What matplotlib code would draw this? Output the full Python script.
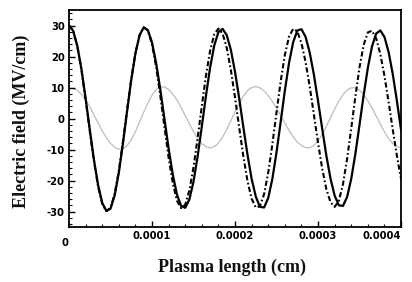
import matplotlib
matplotlib.use('Agg')
import matplotlib.pyplot as plt
from matplotlib.ticker import MultipleLocator, FixedLocator

# sample positions along the plasma, in units of 1e-5 cm
x_pos = [0.0, 0.5, 1.0, 1.5, 2.0, 2.5, 3.0, 3.5, 4.0, 4.5,
         5.0, 5.5, 6.0, 6.5, 7.0, 7.5, 8.0, 8.5, 9.0, 9.5,
         10.0, 10.5, 11.0, 11.5, 12.0, 12.5, 13.0, 13.5, 14.0, 14.5,
         15.0, 15.5, 16.0, 16.5, 17.0, 17.5, 18.0, 18.5, 19.0, 19.5,
         20.0, 20.5, 21.0, 21.5, 22.0, 22.5, 23.0, 23.5, 24.0, 24.5,
         25.0, 25.5, 26.0, 26.5, 27.0, 27.5, 28.0, 28.5, 29.0, 29.5,
         30.0, 30.5, 31.0, 31.5, 32.0, 32.5, 33.0, 33.5, 34.0, 34.5,
         35.0, 35.5, 36.0, 36.5, 37.0, 37.5, 38.0, 38.5, 39.0, 39.5,
         40.0]

# solid curve (MV/cm)
field_solid = [30.0, 28.3, 23.4, 15.9, 6.5, -3.5, -13.2, -21.4, -27.2, -29.8,
               -29.1, -24.8, -17.5, -8.0, 2.4, 12.5, 21.0, 26.9, 29.4, 28.5,
               24.5, 17.8, 9.3, -0.2, -9.7, -18.1, -24.5, -28.2, -28.8, -26.1,
               -20.3, -12.1, -2.5, 7.4, 16.5, 23.6, 27.9, 28.9, 26.9, 22.1,
               15.0, 6.5, -2.8, -11.7, -19.5, -25.2, -28.5, -28.7, -25.6, -19.4,
               -10.8, -1.0, 9.0, 17.9, 24.6, 28.4, 28.8, 26.3, 21.2, 14.1,
               5.6, -3.3, -12.0, -19.4, -24.9, -28.0, -28.2, -25.3, -19.4, -11.3,
               -1.9, 7.7, 16.4, 23.3, 27.4, 28.4, 26.3, 21.4, 14.3, 5.6,
               -3.7]

# dash-dot curve (MV/cm)
field_dashdot = [30.0, 28.3, 23.3, 15.6, 6.1, -4.1, -13.8, -21.9, -27.5, -29.9,
                 -28.8, -24.3, -16.9, -7.4, 2.9, 12.8, 21.1, 26.9, 29.4, 28.4,
                 23.9, 16.6, 7.3, -2.8, -12.6, -20.8, -26.5, -28.9, -27.8, -23.2,
                 -15.7, -6.2, 4.1, 13.9, 21.9, 27.2, 29.0, 27.4, 22.8, 15.6,
                 6.7, -2.9, -12.2, -20.2, -25.9, -28.7, -28.3, -24.4, -17.4, -8.2,
                 2.1, 12.0, 20.5, 26.4, 28.9, 28.1, 24.3, 18.2, 10.2, 1.2,
                 -7.9, -16.2, -22.8, -27.0, -28.5, -26.6, -21.2, -13.0, -3.1, 7.2,
                 16.6, 23.8, 27.8, 28.3, 25.8, 20.8, 13.7, 5.3, -3.6, -12.1,
                 -19.5]

# light grey curve (MV/cm)
field_grey = [9.7, 9.7, 9.1, 7.8, 6.0, 3.8, 1.2, -1.4, -4.0, -6.2,
              -8.0, -9.3, -9.9, -9.8, -8.7, -6.8, -4.2, -1.1, 2.0, 5.0,
              7.5, 9.3, 10.2, 10.2, 9.4, 7.9, 6.0, 3.6, 0.9, -1.7,
              -4.2, -6.4, -8.1, -9.1, -9.5, -9.1, -7.9, -6.0, -3.5, -0.7,
              2.1, 4.8, 7.2, 9.0, 10.0, 10.3, 9.9, 8.9, 7.4, 5.5,
              3.3, 0.9, -1.5, -3.8, -5.9, -7.6, -8.7, -9.4, -9.4, -8.7,
              -7.2, -5.1, -2.5, 0.3, 3.1, 5.6, 7.7, 9.2, 9.9, 9.9,
              9.1, 7.7, 5.7, 3.4, 0.8, -1.8, -4.3, -6.5, -8.1, -9.1,
              -9.5]

x_ticks = [0.0001, 0.0002, 0.0003, 0.0004]
x_tick_labels = ['0.0001', '0.0002', '0.0003', '0.0004']
y_ticks = [-30, -20, -10, 0, 10, 20, 30]

x_cm = [v * 1e-5 for v in x_pos]

TICK_FONT = dict(family='DejaVu Sans', weight='bold', size=7.2)
LABEL_FONT = dict(family='Liberation Serif', weight='bold', size=13)

fig = plt.figure(figsize=(4.12, 2.82), dpi=100, facecolor='white')
ax = fig.add_axes([0.1675, 0.195, 0.806, 0.7695])

ax.plot(x_cm, field_grey, color='#bdbdbd', lw=0.9, zorder=1)
ax.plot(x_cm, field_solid, color='black', lw=1.6, zorder=2)
ax.plot(x_cm, field_dashdot, color='black', lw=1.5,
        linestyle=(0, (2.5, 1.2, 0.8, 1.2)), zorder=3)

ax.set_xlim(0, 0.0004)
ax.set_ylim(-35, 35)

ax.xaxis.set_major_locator(FixedLocator(x_ticks))
ax.xaxis.set_minor_locator(MultipleLocator(0.00002))
ax.yaxis.set_major_locator(FixedLocator(y_ticks))
ax.yaxis.set_minor_locator(MultipleLocator(2))

ax.set_xticklabels(x_tick_labels, fontdict=TICK_FONT)
ax.set_yticklabels([str(v) for v in y_ticks], fontdict=TICK_FONT)
ax.get_xticklabels()[-1].set_horizontalalignment('right')

ax.tick_params(which='both', direction='in', top=False, right=False, colors='black')
ax.tick_params(which='major', length=4, width=1.0, pad=3)
ax.tick_params(which='minor', length=2, width=0.8)

for sp in ax.spines.values():
    sp.set_linewidth(1.3)
    sp.set_color('black')

# the lone "0" sits below-left of the corner in the original
fig.text(65 / 412, 1 - 243 / 282, '0', ha='center', va='center', **TICK_FONT)

fig.text(232 / 412, 1 - 267 / 282, 'Plasma length (cm)', ha='center', va='center',
         color='#111111', **LABEL_FONT)
fig.text(21 / 412, 1 - 121 / 282, 'Electric field (MV/cm)', ha='center', va='center',
         rotation=90, color='#111111', **LABEL_FONT)

fig.savefig('out.png', dpi=100, facecolor='white')
